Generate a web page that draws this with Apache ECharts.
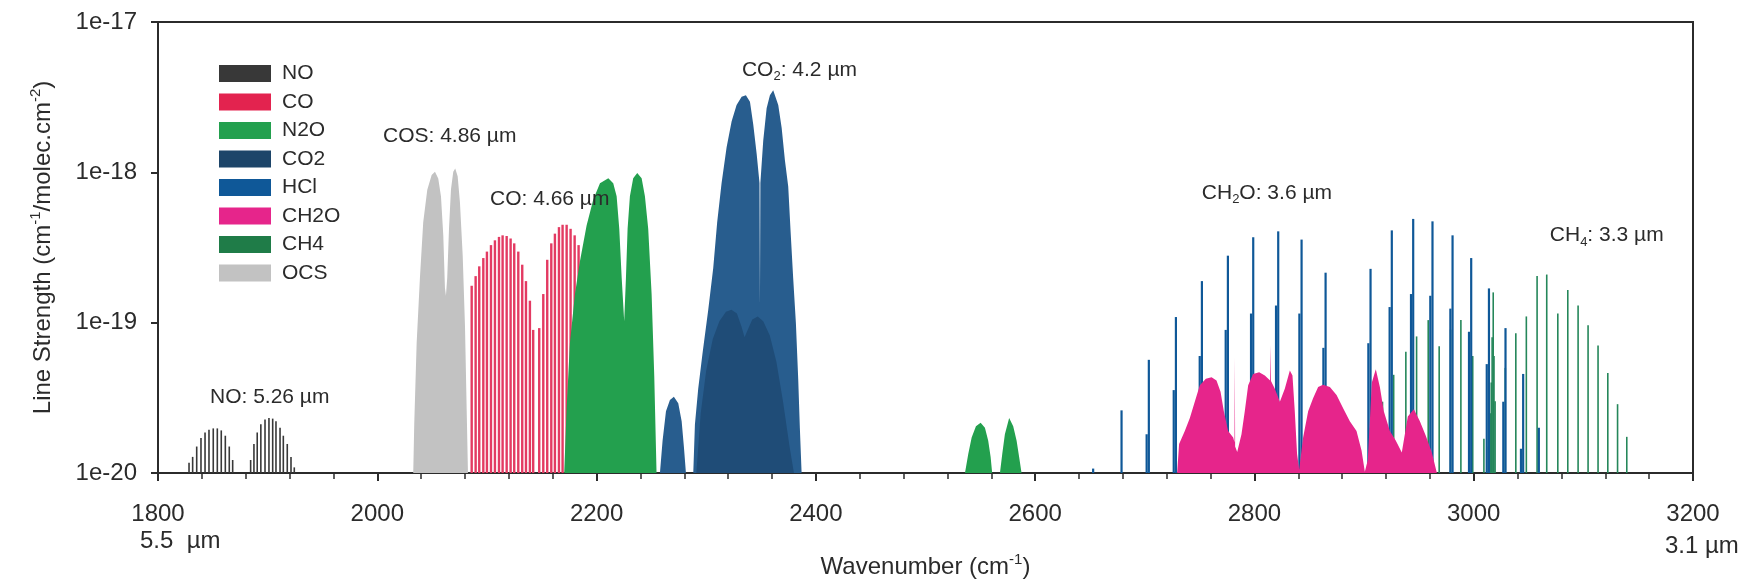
<!DOCTYPE html>
<html>
<head>
<meta charset="utf-8">
<title>Line strengths 1800-3200 cm-1</title>
<script src="https://cdn.jsdelivr.net/npm/echarts/dist/echarts.min.js"></script>
<style>
    html, body { margin: 0; padding: 0; background: #fff; }
    #main { width: 1758px; height: 587px; }
</style>
</head>
<body>
<div id="main"></div>
<script>
// [wavenumber (cm-1), line strength (cm-1/molec.cm-2)]
var noLines = [[1828.3, 1.17e-20], [1831.6, 1.28e-20], [1835.3, 1.50e-20], [1839.2, 1.71e-20], [1842.9, 1.86e-20], [1846.5, 1.94e-20],
    [1850.4, 1.98e-20], [1854.1, 1.98e-20], [1857.7, 1.92e-20], [1861.4, 1.77e-20], [1865.0, 1.50e-20], [1868.1, 1.22e-20],
    [1884.5, 1.22e-20], [1887.5, 1.56e-20], [1890.5, 1.86e-20], [1893.8, 2.11e-20], [1897.6, 2.27e-20], [1901.2, 2.32e-20],
    [1904.6, 2.30e-20], [1907.6, 2.21e-20], [1911.3, 2.00e-20], [1914.3, 1.77e-20], [1917.9, 1.56e-20], [1921.3, 1.28e-20], [1924.3, 1.09e-20]];

var coLines = [[2086.1, 1.76e-19], [2089.7, 2.04e-19], [2093.0, 2.37e-19], [2096.7, 2.69e-19], [2100.0, 2.97e-19], [2103.7, 3.28e-19],
    [2107.3, 3.53e-19], [2111.0, 3.72e-19], [2114.3, 3.81e-19], [2118.0, 3.77e-19], [2121.6, 3.63e-19], [2124.9, 3.37e-19],
    [2128.6, 2.97e-19], [2132.2, 2.43e-19], [2135.6, 1.89e-19], [2139.2, 1.40e-19], [2142.2, 8.95e-20],
    [2147.7, 9.2e-20], [2151.4, 1.55e-19], [2155.0, 2.62e-19], [2158.7, 3.37e-19], [2162.0, 3.91e-19], [2165.7, 4.32e-19],
    [2169.0, 4.48e-19], [2172.7, 4.48e-19], [2176.3, 4.21e-19], [2180.0, 3.81e-19], [2183.6, 3.28e-19], [2187.3, 2.69e-19], [2190.9, 2.09e-19]];

var ocsBand = [[2032.8, 1.0e-20], [2033.7, 2.1e-20], [2035.9, 7.3e-20], [2038.9, 1.99e-19], [2041.9, 4.65e-19], [2045.6, 7.67e-19],
    [2049.6, 9.6e-19], [2052.6, 1.01e-18], [2055.6, 9.1e-19], [2058.1, 6.9e-19], [2060.2, 3.8e-19], [2061.7, 1.71e-19],
    [2062.6, 1.51e-19], [2063.8, 1.99e-19], [2065.4, 4.2e-19], [2067.2, 7.7e-19], [2069.3, 1.01e-18], [2071.1, 1.06e-18],
    [2073.3, 9.4e-19], [2075.4, 6.3e-19], [2077.9, 2.8e-19], [2080.0, 9.4e-20], [2081.5, 2.7e-20], [2082.7, 1.0e-20]];

var n2oBand = [[2170.5, 1.0e-20], [2172.7, 2.70e-20], [2175.7, 7.33e-20], [2180.3, 1.55e-19], [2184.8, 2.55e-19], [2190.9, 4.43e-19],
    [2197.0, 6.6e-19], [2203.1, 8.47e-19], [2210.7, 9.13e-19], [2215.2, 8.47e-19], [2218.3, 6.94e-19], [2220.7, 4.21e-19],
    [2222.9, 1.99e-19], [2225.2, 1.02e-19], [2226.8, 1.99e-19], [2228.3, 4.21e-19], [2230.4, 6.94e-19], [2233.4, 9.13e-19],
    [2237.1, 9.9e-19], [2241.1, 9.13e-19], [2244.1, 6.94e-19], [2247.1, 4.21e-19], [2250.2, 1.55e-19], [2252.6, 4.45e-20], [2254.7, 1.0e-20]];

var n2oUpperBands = [[2536.0, 1.0e-20], [2539.0, 1.34e-20], [2542.1, 1.72e-20], [2546.0, 2.05e-20], [2550.3, 2.16e-20], [2554.2, 2.0e-20],
    [2557.2, 1.64e-20], [2559.4, 1.28e-20], [2560.8, 1.0e-20], [2567.9, 1.0e-20], [2570.0, 1.34e-20], [2572.4, 1.81e-20],
    [2576.3, 2.32e-20], [2580.0, 2.05e-20], [2583.1, 1.64e-20], [2585.4, 1.28e-20], [2587.6, 1.0e-20]];

var co2Band = [[2257.8, 1.0e-20], [2260.2, 1.64e-20], [2263.3, 2.57e-20], [2266.9, 3.06e-20], [2270.5, 3.22e-20], [2274.5, 2.91e-20],
    [2277.6, 2.21e-20], [2279.7, 1.48e-20], [2281.5, 1.0e-20], [2288.2, 1.0e-20], [2289.7, 2.1e-20], [2292.7, 3.64e-20],
    [2296.7, 6.31e-20], [2301.8, 1.21e-19], [2306.4, 2.31e-19], [2310.0, 4.65e-19], [2314.0, 8.47e-19], [2318.6, 1.47e-18],
    [2323.2, 2.19e-18], [2327.7, 2.81e-18], [2332.3, 3.18e-18], [2336.2, 3.26e-18], [2339.9, 2.95e-18], [2342.9, 2.08e-18],
    [2346.0, 1.33e-18], [2348.6, 8.5e-19], [2349.0, 1.3e-19], [2349.4, 8.5e-19], [2352.0, 1.62e-18], [2355.1, 2.67e-18],
    [2358.1, 3.26e-18], [2361.1, 3.52e-18], [2365.7, 2.81e-18], [2368.8, 1.98e-18], [2371.8, 1.20e-18], [2374.8, 8.05e-19],
    [2377.0, 4.0e-19], [2379.3, 1.99e-19], [2381.8, 9.9e-20], [2383.9, 4.23e-20], [2385.4, 2.0e-20], [2387.0, 1.0e-20]];

var co2HotBand = [[2291.0, 1.0e-20], [2295.0, 2.5e-20], [2300.0, 4.8e-20], [2306.0, 7.8e-20], [2312.0, 1.02e-19], [2318.0, 1.18e-19],
    [2323.0, 1.22e-19], [2328.0, 1.15e-19], [2332.0, 9.5e-20], [2335.0, 8.0e-20], [2338.0, 9.0e-20], [2342.0, 1.05e-19],
    [2347.0, 1.1e-19], [2352.0, 1.02e-19], [2358.0, 8.2e-20], [2364.0, 5.5e-20], [2370.0, 3.0e-20], [2376.0, 1.5e-20], [2380.0, 1.0e-20]];

var hclLines = [[2652.9, 1.07e-20], [2678.8, 2.61e-20], [2703.7, 5.66e-20], [2728.4, 1.09e-19], [2752.1, 1.89e-19], [2775.8, 2.79e-19],
    [2798.9, 3.70e-19], [2821.7, 4.05e-19], [2843.0, 3.57e-19], [2864.9, 2.15e-19], [2905.9, 2.28e-19], [2925.3, 4.11e-19],
    [2944.8, 4.90e-19], [2962.4, 4.72e-19], [2980.7, 3.81e-19], [2997.7, 2.69e-19], [3013.9, 1.69e-19], [3029.0, 9.2e-20],
    [3045.1, 4.56e-20], [3059.4, 2.0e-20]];

var h37clLines = [[2701.7, 1.81e-20], [2726.4, 3.56e-20], [2750.1, 6.0e-20], [2773.8, 8.95e-20], [2796.9, 1.15e-19], [2819.7, 1.30e-19],
    [2841.0, 1.15e-19], [2862.9, 6.8e-20], [2903.9, 7.3e-20], [2923.3, 1.27e-19], [2942.8, 1.55e-19], [2960.4, 1.51e-19],
    [2978.7, 1.24e-19], [2995.7, 8.7e-20], [3011.9, 5.3e-20], [3027.0, 2.98e-20], [3043.1, 1.45e-20]];

var ch2oBand = [[2729.5, 1.0e-20], [2731.3, 1.56e-20], [2736.5, 1.90e-20], [2741.1, 2.32e-20], [2745.6, 2.98e-20], [2750.2, 3.83e-20],
    [2755.7, 4.23e-20], [2760.9, 4.34e-20], [2765.4, 4.13e-20], [2769.1, 3.47e-20], [2772.1, 2.57e-20], [2776.0, 1.90e-20],
    [2780.6, 1.72e-20], [2781.8, 1.6e-20], [2782.1, 5.9e-20], [2782.4, 1.5e-20], [2784.3, 1.38e-20], [2788.2, 1.81e-20],
    [2791.2, 2.57e-20], [2794.3, 3.83e-20], [2798.8, 4.56e-20], [2804.3, 4.68e-20], [2809.5, 4.45e-20], [2814.3, 4.13e-20],
    [2814.7, 7.1e-20], [2815.1, 4.1e-20], [2818.6, 3.64e-20], [2823.2, 2.98e-20], [2827.7, 3.64e-20], [2832.3, 4.80e-20],
    [2834.7, 4.45e-20], [2836.8, 2.57e-20], [2838.9, 1.34e-20], [2840.8, 1.05e-20], [2844.4, 1.72e-20], [2849.0, 2.57e-20],
    [2853.5, 3.14e-20], [2858.1, 3.74e-20], [2862.6, 3.87e-20], [2868.8, 3.74e-20], [2874.9, 3.30e-20], [2880.9, 2.70e-20],
    [2887.0, 2.21e-20], [2893.1, 1.90e-20], [2897.7, 1.41e-20], [2900.7, 1.02e-20], [2903.4, 1.22e-20], [2907.1, 4.0e-20],
    [2910.7, 4.9e-20], [2914.4, 3.74e-20], [2918.0, 2.57e-20], [2923.5, 1.90e-20], [2929.0, 1.64e-20], [2934.4, 1.37e-20],
    [2939.9, 2.38e-20], [2945.4, 2.65e-20], [2950.9, 2.21e-20], [2956.3, 1.77e-20], [2961.8, 1.37e-20], [2966.4, 1.0e-20]];

var ch4Lines = [[2895.0, 1.3e-20], [2905.9, 2.0e-20], [2916.8, 2.98e-20], [2927.0, 4.5e-20], [2938.1, 6.41e-20], [2947.9, 8.1e-20],
    [2958.5, 1.04e-19], [2968.5, 6.98e-20], [2978.9, 9.0e-20], [2988.3, 1.04e-19], [2999.1, 6.0e-20], [3009.3, 1.69e-20],
    [3013.5, 1.5e-20], [3015.0, 2.5e-20], [3016.0, 4.0e-20], [3016.8, 8.0e-20], [3017.8, 1.59e-19], [3018.5, 6.0e-20], [3019.5, 3.0e-20],
    [3028.8, 5.0e-20], [3038.4, 8.5e-20], [3048.0, 1.10e-19], [3057.8, 2.04e-19], [3066.6, 2.09e-19], [3076.7, 1.15e-19],
    [3085.8, 1.65e-19], [3095.2, 1.30e-19], [3104.3, 9.6e-20], [3113.4, 7.05e-20], [3122.3, 4.63e-20], [3131.2, 2.87e-20], [3139.6, 1.74e-20]];

var molecules = ['NO', 'CO', 'N2O', 'CO2', 'HCl', 'CH2O', 'CH4', 'OCS'];
var moleculeColors = ['#383838', '#e3234f', '#23a04e', '#1d4569', '#0f5898', '#e6258b', '#1f7c48', '#c2c2c2'];

// band labels, anchored at the left end of the text
var bandLabels = ['NO: 5.26 µm', 'COS: 4.86 µm', 'CO: 4.66 µm', 'CO{sub|2}: 4.2 µm', 'CH{sub|2}O: 3.6 µm', 'CH{sub|4}: 3.3 µm'];
var bandLabelX = [1847.4, 2005.2, 2102.8, 2332.6, 2752.0, 3069.4];
var bandLabelY = [3.2e-20, 1.75e-18, 6.6e-19, 4.8e-18, 7.3e-19, 3.8e-19];

var xMin = 1800, xMax = 3200, xStep = 200;
var yMin = 1e-20, yMax = 1e-17;
var edgeValues = [1800, 3200];
var edgeLabels = ['5.5  µm', '3.1 µm'];

var FONT = "'Liberation Sans', Arial, Helvetica, sans-serif";
var INK = '#2b2b2b';

function colorOf(name) {
    return moleculeColors[molecules.indexOf(name)];
}

// vertical sticks from the bottom of the axis up to each line strength
function stickSeries(name, data, color, width) {
    return {
        name: name,
        type: 'custom',
        data: data,
        encode: {x: 0, y: 1},
        itemStyle: {color: color},
        renderItem: function (params, api) {
            var top = api.coord([api.value(0), api.value(1)]);
            var base = api.coord([api.value(0), yMin]);
            return {
                type: 'line',
                shape: {x1: top[0], y1: base[1], x2: top[0], y2: top[1]},
                style: {stroke: color, lineWidth: width}
            };
        }
    };
}

// dense bands drawn as filled envelopes
function bandSeries(name, data, color) {
    return {
        name: name,
        type: 'line',
        data: data,
        symbol: 'none',
        lineStyle: {width: 0},
        itemStyle: {color: color},
        areaStyle: {color: color, opacity: 1, origin: 'start'}
    };
}

var chart = echarts.init(document.getElementById('main'));

var option = {
    animation: false,
    textStyle: {fontFamily: FONT, color: INK},
    grid: {left: 158, right: 65, top: 22, bottom: 104, show: true, borderColor: INK, borderWidth: 2},
    legend: {
        orient: 'vertical',
        left: 214,
        top: 58,
        itemWidth: 52,
        itemHeight: 17,
        itemGap: 7.5,
        icon: 'rect',
        selectedMode: false,
        textStyle: {fontSize: 21, color: INK, lineHeight: 21, padding: [0, 0, 0, 6]},
        data: molecules.map(function (m, i) {
            return {name: m, itemStyle: {color: moleculeColors[i]}};
        })
    },
    xAxis: {
        type: 'value',
        min: xMin,
        max: xMax,
        interval: xStep,
        name: 'Wavenumber (cm{sup|-1})',
        nameLocation: 'middle',
        nameGap: 79,
        nameTextStyle: {
            fontSize: 24, color: INK, lineHeight: 30,
            rich: {sup: {fontSize: 15, lineHeight: 15, verticalAlign: 'top', color: INK}}
        },
        axisLine: {lineStyle: {color: INK, width: 2}},
        axisTick: {length: 8, lineStyle: {color: INK, width: 2}},
        minorTick: {show: true, splitNumber: 5, length: 6, lineStyle: {color: INK, width: 1.5}},
        axisLabel: {
            fontSize: 24, color: INK, margin: 29,
            formatter: function (v) {
                return String(v);
            }
        },
        splitLine: {show: false}
    },
    yAxis: {
        type: 'log',
        logBase: 10,
        min: yMin,
        max: yMax,
        name: 'Line Strength (cm{sup|-1}/molec.cm{sup|-2})',
        nameLocation: 'middle',
        nameGap: 100,
        nameTextStyle: {
            fontSize: 24, color: INK, lineHeight: 30,
            rich: {sup: {fontSize: 15, lineHeight: 15, verticalAlign: 'top', color: INK}}
        },
        axisLine: {lineStyle: {color: INK, width: 2}},
        axisTick: {length: 7, lineStyle: {color: INK, width: 2}},
        axisLabel: {
            fontSize: 24, color: INK, margin: 21,
            formatter: function (v) {
                return '1e' + Math.round(Math.log10(v));
            }
        },
        splitLine: {show: false}
    },
    series: [
        bandSeries('OCS', ocsBand, colorOf('OCS')),
        stickSeries('CO', coLines, '#e33a62', 2.4),
        bandSeries('N2O', n2oBand, colorOf('N2O')),
        bandSeries('N2O', n2oUpperBands, colorOf('N2O')),
        bandSeries('CO2', co2Band, '#285d8e'),
        bandSeries('CO2', co2HotBand, '#1f4c77'),
        stickSeries('NO', noLines, colorOf('NO'), 1.6),
        bandSeries('CH2O', ch2oBand, colorOf('CH2O')),
        stickSeries('CH4', ch4Lines, '#25875a', 1.6),
        stickSeries('HCl', h37clLines, colorOf('HCl'), 2.2),
        stickSeries('HCl', hclLines, colorOf('HCl'), 2.2)
    ]
};

chart.setOption(option);

// text placed through the chart's own coordinate system
var graphics = [];
bandLabels.forEach(function (t, i) {
    var p = chart.convertToPixel({gridIndex: 0}, [bandLabelX[i], bandLabelY[i]]);
    graphics.push({
        type: 'text',
        x: p[0],
        y: p[1],
        z: 100,
        style: {
            text: t,
            fontSize: 21,
            fontFamily: FONT,
            fill: INK,
            lineHeight: 26,
            verticalAlign: 'middle',
            rich: {sub: {fontSize: 13, lineHeight: 13, verticalAlign: 'bottom', fontFamily: FONT, fill: INK}}
        }
    });
});
var baseY = chart.convertToPixel({yAxisIndex: 0}, yMin);
edgeLabels.forEach(function (t, i) {
    var px = chart.convertToPixel({xAxisIndex: 0}, edgeValues[i]);
    graphics.push({
        type: 'text',
        x: px + (i === 0 ? -18 : -28),
        y: baseY + (i === 0 ? 56 : 61),
        style: {text: t, fontSize: 24, fontFamily: FONT, fill: INK}
    });
});
chart.setOption({graphic: graphics});
</script>
</body>
</html>
